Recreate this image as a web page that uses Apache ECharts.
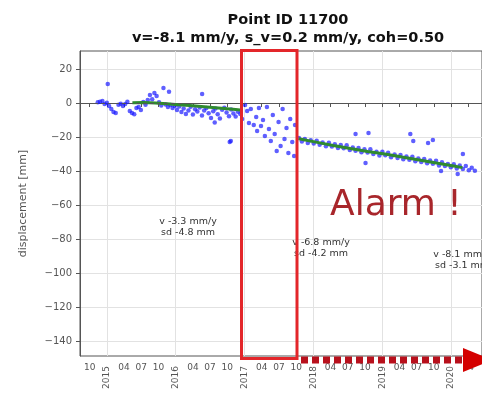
<!DOCTYPE html>
<html>
<head>
<meta charset="utf-8">
<script src="https://cdn.jsdelivr.net/npm/echarts@6/dist/echarts.min.js"></script>
<style>
html, body { margin: 0; padding: 0; background: #fff; }
#chart { width: 482px; height: 394px; }
</style>
</head>
<body>
<div id="chart"></div>
<script>
// raw displacement measurements (blue dots)
var seg1Dates = ['2014-11-14','2014-11-26','2014-12-08','2014-12-20','2015-01-01','2015-01-06','2015-01-13','2015-01-25','2015-02-06','2015-02-18',
  '2015-03-02','2015-03-14','2015-03-26','2015-04-07','2015-04-19','2015-05-01','2015-05-13','2015-05-25','2015-06-06','2015-06-18',
  '2015-06-30','2015-07-12','2015-07-24','2015-08-05','2015-08-17','2015-08-29','2015-09-10','2015-09-22','2015-10-04','2015-10-16',
  '2015-10-28','2015-11-09','2015-11-21','2015-11-27','2015-12-03','2015-12-15','2015-12-27','2016-01-08','2016-01-20','2016-02-01',
  '2016-02-13','2016-02-25','2016-03-08','2016-03-20','2016-04-01','2016-04-13','2016-04-25','2016-05-07','2016-05-19','2016-05-20',
  '2016-05-31','2016-06-12','2016-06-24','2016-07-06','2016-07-18','2016-07-26','2016-07-30','2016-08-11','2016-08-23','2016-09-04',
  '2016-09-16','2016-09-28','2016-10-10','2016-10-14','2016-10-20','2016-10-22','2016-11-03','2016-11-15','2016-11-27'];
var seg1Values = [0.4, 0.8, 1.2, -0.6, 0.2, 11.2, -1.8, -3.5, -5.3, -5.9,
  -1.0, -0.4, -1.8, -0.6, 0.8, -4.7, -5.9, -6.6, -3.0, -2.4,
  -4.1, 0.6, -1.0, 1.8, 4.7, 2.2, 5.9, 4.1, 0.5, -1.5,
  8.8, -0.8, -2.4, 6.6, -1.2, -3.0, -1.8, -4.1, -2.0, -5.3,
  -3.2, -6.5, -4.4, -2.2, -6.8, -3.6, -5.0, -2.6, -7.3, 5.3,
  -4.4, -2.9, -6.0, -8.8, -4.8, -11.5, -3.2, -6.6, -9.1, -4.0,
  -2.8, -5.6, -7.8, -22.9, -22.4, -3.8, -6.2, -8.0, -5.1];

var seg2Dates = ['2016-12-09','2016-12-19','2017-01-04','2017-01-15','2017-01-25','2017-02-04','2017-02-20','2017-03-02','2017-03-07','2017-03-17',
  '2017-03-28','2017-04-08','2017-04-18','2017-04-29','2017-05-09','2017-05-19','2017-05-30','2017-06-09','2017-06-20','2017-06-30',
  '2017-07-10','2017-07-21','2017-07-31','2017-08-11','2017-08-21','2017-08-31','2017-09-11','2017-09-21','2017-09-26'];
var seg2Values = [-6.5, -9.4, -1.2, -4.7, -11.8, -3.5, -12.9, -8.2, -16.5, -2.9,
  -13.5, -10.0, -19.4, -2.4, -15.3, -22.4, -7.1, -18.2, -28.2, -11.2,
  -25.3, -3.5, -21.2, -14.7, -29.4, -9.4, -22.9, -31.2, -12.9];

var seg3Dates = ['2017-10-16','2017-11-01','2017-11-17','2017-12-02','2017-12-18','2018-01-03','2018-01-19','2018-02-04','2018-02-20','2018-03-07',
  '2018-03-23','2018-04-08','2018-04-24','2018-05-10','2018-05-25','2018-06-10','2018-06-26','2018-07-12','2018-07-28','2018-08-12',
  '2018-08-28','2018-09-13','2018-09-29','2018-10-15','2018-10-30','2018-11-15','2018-12-01','2018-12-17','2019-01-02','2019-01-18',
  '2019-02-02','2019-02-18','2019-03-06','2019-03-22','2019-04-07','2019-04-22','2019-05-08','2019-05-24','2019-06-09','2019-06-25',
  '2019-07-10','2019-07-26','2019-08-11','2019-08-27','2019-09-12','2019-09-27','2019-10-13','2019-10-29','2019-11-14','2019-11-30',
  '2019-12-15','2019-12-31','2020-01-16','2020-02-01','2020-02-17','2020-03-03','2020-03-19','2020-04-04','2020-04-20','2020-05-06'];
var seg3Values = [-20.5, -22.7, -21.2, -23.5, -21.9, -23.8, -22.2, -24.6, -23.2, -25.4,
  -23.3, -25.5, -24.2, -26.5, -24.7, -26.6, -24.9, -27.6, -26.1, -28.1,
  -26.4, -28.9, -27.2, -29.1, -27.2, -30.0, -28.6, -30.8, -28.7, -30.7,
  -29.2, -31.9, -30.3, -32.3, -30.6, -33.0, -31.4, -33.4, -31.6, -34.3,
  -32.7, -34.7, -32.9, -35.4, -33.8, -35.7, -33.9, -36.8, -34.9, -37.1,
  -35.8, -37.8, -36.0, -38.5, -36.8, -38.8, -37.0, -39.5, -38.1, -39.9];

var outlierDates = ['2018-08-12','2018-10-04','2018-10-20','2019-05-29','2019-06-14','2019-09-01','2019-09-27','2019-11-09','2020-02-06','2020-03-03'];
var outlierValues = [-18.2, -35.3, -17.6, -18.2, -22.4, -23.5, -21.8, -40.0, -41.8, -30.0];

// smoothed series (green)
var fitDates = ['2015-05-15','2015-07-15','2015-09-15','2015-11-15','2016-01-15','2016-03-15','2016-05-15','2016-07-15','2016-09-15','2016-11-15','2016-12-20',
  null,
  '2017-10-15','2018-01-15','2018-04-15','2018-07-15','2018-10-15','2019-01-15','2019-04-15','2019-07-15','2019-10-15','2020-01-15','2020-03-01'];
var fitValues = [0.2, 0.3, 0.0, -0.4, -1.0, -1.5, -2.0, -2.6, -3.2, -3.8, -4.3,
  null,
  -21.0, -23.0, -25.0, -26.8, -28.5, -30.0, -31.8, -33.5, -35.3, -37.0, -38.0];

var yTicks = [-140, -120, -100, -80, -60, -40, -20, 0, 20];
var yearLabels = ['2015', '2016', '2017', '2018', '2019', '2020'];
var monthLabels = ['04', '07', '10'];

var segNotes = [
  { x: 188, y: 227, text: 'v -3.3 mm/y\nsd -4.8 mm' },
  { x: 321, y: 248, text: 'v -6.8 mm/y\nsd -4.2 mm' },
  { x: 462, y: 260, text: 'v -8.1 mm/y\nsd -3.1 mm' }
];

function toMonth(s) {
  var p = s.split('-');
  return (p[0] - 2014) * 12 + (p[1] - 1) + (p[2] ? (p[2] - 1) / 31 : 0);
}

function pairs(dates, values) {
  var out = [];
  for (var i = 0; i < dates.length; i++) {
    out.push(dates[i] === null ? [null, null] : [toMonth(dates[i]), values[i]]);
  }
  return out;
}

var rawData = pairs(seg1Dates, seg1Values)
  .concat(pairs(seg2Dates, seg2Values))
  .concat(pairs(seg3Dates, seg3Values))
  .concat(pairs(outlierDates, outlierValues));
var fitData = pairs(fitDates, fitValues);

var yearTicks = yearLabels.map(function (y) { return toMonth(y + '-01'); });
var monthTicks = [toMonth('2014-10')];
yearLabels.forEach(function (y) {
  monthLabels.forEach(function (m) { monthTicks.push(toMonth(y + '-' + m)); });
});
var allTicks = monthTicks.concat(yearTicks);

var xMin = 7.32, xMax = 77.4;
var labelColor = '#555';
var gridColor = '#e2e2e2';

var chart = echarts.init(document.getElementById('chart'));

var graphics = [
  { type: 'text', style: { x: 288, y: 20, text: 'Point ID 11700', align: 'center', verticalAlign: 'middle',
      fontFamily: 'DejaVu Sans', fontWeight: 'bold', fontSize: 14.5, fill: '#111' } },
  { type: 'text', style: { x: 288, y: 38, text: 'v=-8.1 mm/y, s_v=0.2 mm/y, coh=0.50', align: 'center', verticalAlign: 'middle',
      fontFamily: 'DejaVu Sans', fontWeight: 'bold', fontSize: 14.5, fill: '#111' } },
  { type: 'text', z: 10, style: { x: 330, y: 206, text: 'Alarm !', align: 'left', verticalAlign: 'middle',
      fontFamily: 'DejaVu Sans', fontSize: 36, fill: '#a8262b' } },
  { type: 'rect', z: 10, shape: { x: 241.5, y: 50.5, width: 55.5, height: 308 },
    style: { fill: 'none', stroke: '#e3262a', lineWidth: 3 } },
  { type: 'line', z: 10, shape: { x1: 301, y1: 360, x2: 464, y2: 360 },
    style: { stroke: '#b8101c', lineWidth: 7, lineDash: [7, 4] } },
  { type: 'polygon', z: 10, shape: { points: [[463, 348], [492, 360], [463, 372]] },
    style: { fill: '#d40000' } }
];
segNotes.forEach(function (n) {
  graphics.push({ type: 'text', z: 9, style: { x: n.x, y: n.y, text: n.text, align: 'center', verticalAlign: 'middle',
    fontFamily: 'DejaVu Sans', fontSize: 9.5, lineHeight: 11, fill: '#333' } });
});

var option = {
  animation: false,
  backgroundColor: '#fff',
  grid: { left: 80, right: -2, top: 51, bottom: 38, show: true, borderColor: '#555', borderWidth: 1 },
  xAxis: [{
    type: 'value', min: xMin, max: xMax,
    axisLine: { lineStyle: { color: '#555' } },
    axisTick: { customValues: allTicks, length: 4, lineStyle: { color: '#555' } },
    axisLabel: {
      customValues: monthTicks, margin: 7, fontSize: 9, color: labelColor, fontFamily: 'DejaVu Sans',
      formatter: function (v) { return String(Math.round(v) % 12 + 1).padStart(2, '0'); }
    },
    splitLine: { show: false }
  }, {
    type: 'value', min: xMin, max: xMax, position: 'bottom',
    axisLine: { show: false },
    axisTick: { customValues: yearTicks, show: false },
    axisLabel: {
      customValues: yearTicks, rotate: 90, margin: 10, fontSize: 9, color: labelColor, fontFamily: 'DejaVu Sans',
      formatter: function (v) { return String(2014 + Math.round(v) / 12); }
    },
    splitLine: { show: true, lineStyle: { color: gridColor, width: 1 } }
  }],
  yAxis: {
    type: 'value', min: -148.8, max: 30.6,
    name: 'displacement [mm]', nameLocation: 'middle', nameGap: 51,
    nameTextStyle: { fontSize: 11, color: labelColor, fontFamily: 'DejaVu Sans' },
    axisLine: { show: true, lineStyle: { color: '#555' } },
    axisTick: { show: true, customValues: yTicks, length: 4, lineStyle: { color: '#555' } },
    axisLabel: {
      customValues: yTicks, margin: 8, fontSize: 10, color: labelColor, fontFamily: 'DejaVu Sans',
      formatter: function (v) { return v < 0 ? '\u2212' + Math.abs(v) : String(v); }
    },
    splitLine: { show: true, lineStyle: { color: gridColor, width: 1 } }
  },
  series: [{
    type: 'scatter',
    data: rawData,
    symbolSize: 4.5,
    itemStyle: { color: 'rgba(20,20,255,0.85)' },
    markLine: {
      silent: true, symbol: 'none', label: { show: false },
      lineStyle: { color: '#555', type: [4, 3], width: 1 },
      data: [{ yAxis: 0 }]
    }
  }, {
    type: 'line',
    data: fitData,
    showSymbol: false,
    connectNulls: false,
    lineStyle: { color: '#2f8a2f', width: 3 }
  }],
  graphic: graphics
};

chart.setOption(option);
</script>
</body>
</html>
